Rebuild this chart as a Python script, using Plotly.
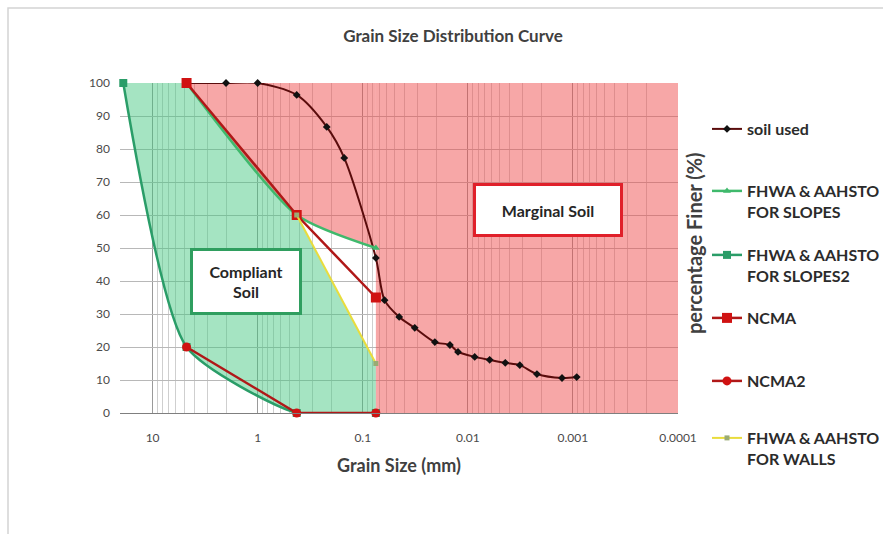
import plotly.graph_objects as go

# Sieve + hydrometer results for the tested soil (grain size in mm, % finer)
soil_d = [4.75, 2.0, 1.0, 0.425, 0.22, 0.15, 0.075, 0.062, 0.045, 0.032, 0.0206,
          0.0148, 0.0124, 0.0086, 0.0062, 0.0044, 0.0032, 0.0022, 0.00127, 0.00092]
soil_p = [100, 100, 100, 96.4, 86.7, 77.3, 47, 34.2, 29.1, 25.8, 21.5,
          20.6, 18.5, 17.0, 16.1, 15.2, 14.5, 11.8, 10.6, 10.9]

# Specification envelopes
slopes_d = [4.75, 0.425, 0.075]
slopes_p = [100, 60, 50]
slopes2_d = [19, 4.75, 0.425, 0.075]
slopes2_p = [100, 20, 0, 0]
ncma_d = [4.75, 0.425, 0.075]
ncma_p = [100, 60, 35]
ncma2_d = [4.75, 0.425, 0.075]
ncma2_p = [20, 0, 0]
walls_d = [0.425, 0.075]
walls_p = [60, 15]

x_tick_vals = [10, 1, 0.1, 0.01, 0.001, 0.0001]
x_tick_text = ["10", "1", "0.1", "0.01", "0.001", "0.0001"]
y_tick_vals = [0, 10, 20, 30, 40, 50, 60, 70, 80, 90, 100]

FONT = "Lato"
TXT = "#404040"

# plot area in pixels
L, R, T, B = 120, 678, 83, 413
W, H = 883, 534


def px_x(p):
    return (p - L) / (R - L)


def px_y(p):
    return (B - p) / (B - T)


SLOPES_SMOOTH = 0.65
SLOPES2_SMOOTH = 0.6

fig = go.Figure()

# --- shaded zones -------------------------------------------------------
GREEN_FILL = "rgba(66,198,128,0.48)"
PINK_FILL = "rgba(238,72,72,0.48)"

# compliant zone: between lower slope envelope and upper NCMA / walls limits
fig.add_trace(go.Scatter(x=slopes2_d, y=slopes2_p, mode="lines",
                         line=dict(width=0, shape="spline", smoothing=SLOPES2_SMOOTH),
                         showlegend=False, hoverinfo="skip"))
fig.add_trace(go.Scatter(x=[slopes2_d[0]] + ncma_d[:2] + walls_d[1:],
                         y=[slopes2_p[0]] + ncma_p[:2] + walls_p[1:],
                         mode="lines", line=dict(width=0), fill="tonexty",
                         fillcolor=GREEN_FILL, showlegend=False, hoverinfo="skip"))

# marginal zone: above the upper slope envelope, and everything finer than 0.075 mm
fig.add_trace(go.Scatter(x=slopes_d, y=slopes_p, mode="lines",
                         line=dict(width=0, shape="spline", smoothing=SLOPES_SMOOTH),
                         showlegend=False, hoverinfo="skip"))
fig.add_trace(go.Scatter(x=[slopes_d[0], slopes_d[-1]], y=[100, 100], mode="lines",
                         line=dict(width=0), fill="tonexty", fillcolor=PINK_FILL,
                         showlegend=False, hoverinfo="skip"))
fig.add_trace(go.Scatter(x=[slopes_d[-1], x_tick_vals[-1], x_tick_vals[-1], slopes_d[-1]],
                         y=[0, 0, 100, 100], mode="lines", line=dict(width=0),
                         fill="toself", fillcolor=PINK_FILL, showlegend=False,
                         hoverinfo="skip"))

# --- curves -------------------------------------------------------------
fig.add_trace(go.Scatter(
    x=soil_d, y=soil_p, name="soil used", legend="legend",
    mode="lines+markers", line=dict(color="#5a0c0c", width=2, shape="spline", smoothing=0.8),
    marker=dict(symbol="diamond", size=6, color="#111111"), cliponaxis=False))
fig.add_trace(go.Scatter(
    x=slopes_d, y=slopes_p, name="FHWA & AAHSTO<br>FOR SLOPES", legend="legend2",
    mode="lines+markers",
    line=dict(color="#3fb96c", width=2.5, shape="spline", smoothing=SLOPES_SMOOTH),
    marker=dict(symbol="triangle-up", size=7, color="#3fb96c"), cliponaxis=False))
fig.add_trace(go.Scatter(
    x=slopes2_d, y=slopes2_p, name="FHWA & AAHSTO<br>FOR SLOPES2", legend="legend3",
    mode="lines+markers",
    line=dict(color="#2a9d68", width=2.5, shape="spline", smoothing=SLOPES2_SMOOTH),
    marker=dict(symbol="square", size=8, color="#2a9d68"), cliponaxis=False))
fig.add_trace(go.Scatter(
    x=ncma_d, y=ncma_p, name="NCMA", legend="legend4",
    mode="lines+markers", line=dict(color="#b01818", width=2.5),
    marker=dict(symbol="square", size=10, color="#d01212"), cliponaxis=False))
fig.add_trace(go.Scatter(
    x=ncma2_d, y=ncma2_p, name="NCMA2", legend="legend5",
    mode="lines+markers", line=dict(color="#b01818", width=2.5),
    marker=dict(symbol="circle", size=9, color="#d01212"), cliponaxis=False))
fig.add_trace(go.Scatter(
    x=walls_d, y=walls_p, name="FHWA & AAHSTO<br>FOR WALLS", legend="legend6",
    mode="lines+markers", line=dict(color="#e9dc3c", width=2),
    marker=dict(symbol="square", size=5, color="#9aab74"), cliponaxis=False))

# --- legends, one per entry so each can sit at its own height -----------
legend_top_px = [112, 174, 238, 301, 364, 421]
legend_common = dict(x=px_x(707), xanchor="left", yanchor="top", valign="top",
                     bgcolor="rgba(0,0,0,0)",
                     font=dict(family=FONT, size=16, color="#2b2b2b", weight="bold"),
                     itemwidth=30)
legends = {}
for i, top in enumerate(legend_top_px):
    key = "legend" if i == 0 else f"legend{i + 1}"
    legends[key] = dict(legend_common, y=px_y(top))

minor_vals = [m * 10.0 ** e for e in range(-4, 2) for m in range(2, 10)
              if m * 10.0 ** e < 20]

fig.update_layout(
    width=W, height=H,
    margin=dict(l=L, r=W - R, t=T, b=H - B, autoexpand=False),
    paper_bgcolor="white", plot_bgcolor="white",
    font=dict(family=FONT, color=TXT),
    title=dict(text="Grain Size Distribution Curve", x=453 / W, xanchor="center",
               y=1 - 36 / H, yanchor="middle",
               font=dict(family=FONT, size=17, color=TXT, weight="bold")),
    xaxis=dict(type="log", range=[1.31, -4], tickvals=x_tick_vals, ticktext=x_tick_text,
               showgrid=True, gridcolor="#9a9a9a", gridwidth=1,
               minor=dict(tickvals=minor_vals, showgrid=True, gridcolor="#cfcfcf",
                          gridwidth=1, ticks=""),
               showline=True, linecolor="#7f7f7f", linewidth=1, zeroline=False,
               ticks="", ticklabelstandoff=14,
               tickfont=dict(family=FONT, size=12, color="#4a4a4a"),
               title=dict(text="Grain Size (mm)", standoff=14,
                          font=dict(family=FONT, size=18, color=TXT, weight="bold"))),
    yaxis=dict(range=[0, 100], tickvals=y_tick_vals, showgrid=True, gridcolor="#b8b8b8",
               gridwidth=1, zeroline=False, showline=False, ticks="",
               ticklabelstandoff=9,
               tickfont=dict(family=FONT, size=12, color="#4a4a4a")),
    **legends,
)

# zone labels
fig.add_annotation(xref="paper", yref="paper", x=px_x(246), y=px_y(281.5),
                   xanchor="center", yanchor="middle",
                   text="Compliant<br>Soil", showarrow=False,
                   font=dict(family=FONT, size=16, color="#262626", weight="bold"),
                   bgcolor="white", bordercolor="#2f9e5f", borderwidth=3,
                   width=104, height=59, borderpad=1)
fig.add_annotation(xref="paper", yref="paper", x=px_x(548), y=px_y(210),
                   xanchor="center", yanchor="middle",
                   text="Marginal Soil", showarrow=False,
                   font=dict(family=FONT, size=16, color="#262626", weight="bold"),
                   bgcolor="white", bordercolor="#e0202a", borderwidth=3,
                   width=142, height=46, borderpad=1)

# y-axis title on the right-hand side
fig.add_annotation(xref="paper", yref="paper", x=px_x(694), y=px_y(243),
                   xanchor="center", yanchor="middle",
                   text="percentage Finer (%)", textangle=-90, showarrow=False,
                   font=dict(family=FONT, size=20, color=TXT, weight="bold"))

# chart-area frame
fig.add_shape(type="rect", xref="paper", yref="paper",
              x0=px_x(8), x1=px_x(W + 5), y0=px_y(H + 5), y1=px_y(8),
              line=dict(color="#d4d4d4", width=1.5), layer="below")

fig.write_html("out.html")
